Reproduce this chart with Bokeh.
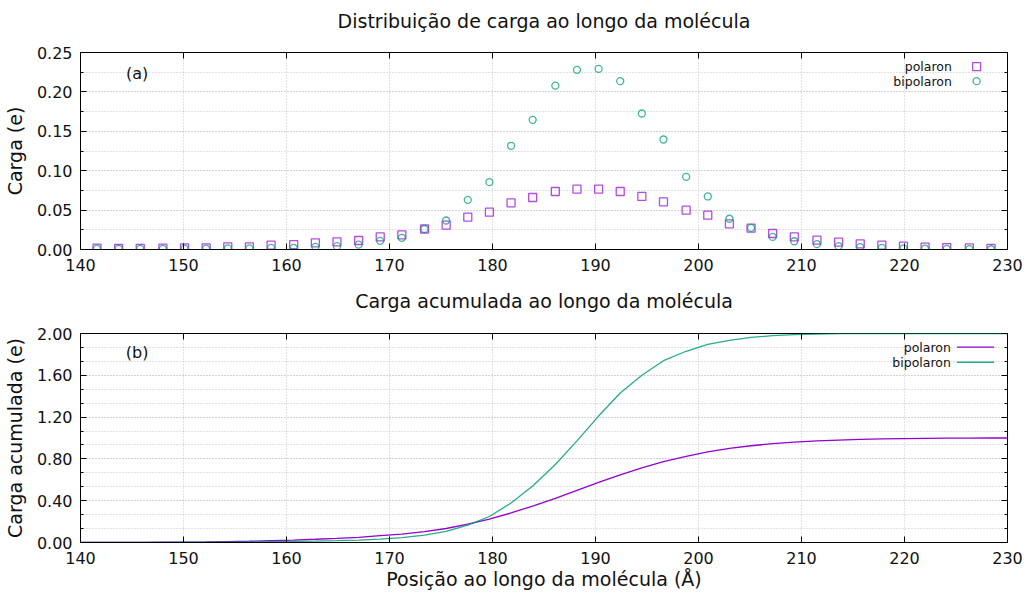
from bokeh.plotting import figure
from bokeh.layouts import column
from bokeh.models import (Range1d, SingleIntervalTicker, LinearAxis, PrintfTickFormatter,
                          Label, CustomJSTickFormatter)
from bokeh.embed import file_html
from bokeh.resources import INLINE

# ---------------- data ----------------
posicao = [141.6, 143.7, 145.8, 148.0, 150.1, 152.2, 154.3, 156.4, 158.5, 160.7,
           162.8, 164.9, 167.0, 169.1, 171.2, 173.4, 175.5, 177.6, 179.7, 181.8,
           183.9, 186.1, 188.2, 190.3, 192.4, 194.5, 196.6, 198.8, 200.9, 203.0,
           205.1, 207.2, 209.3, 211.5, 213.6, 215.7, 217.8, 219.9, 222.0, 224.1,
           226.3, 228.4]
carga_polaron = [0.0017, 0.0013, 0.0015, 0.0017, 0.002, 0.002, 0.0034, 0.0034, 0.0055, 0.0063,
                 0.0085, 0.0097, 0.0114, 0.016, 0.0186, 0.026, 0.031, 0.041, 0.0474, 0.0592,
                 0.066, 0.0736, 0.0766, 0.0766, 0.0736, 0.0673, 0.0605, 0.0499, 0.0436, 0.0326,
                 0.027, 0.0203, 0.016, 0.0118, 0.0093, 0.0072, 0.0055, 0.0042, 0.003, 0.0025,
                 0.002, 0.0015]
carga_bipolaron = [0.001, 0.0008, 0.0008, 0.0008, 0.001, 0.001, 0.0015, 0.0015, 0.002, 0.002,
                   0.0034, 0.0042, 0.0063, 0.011, 0.0148, 0.026, 0.0368, 0.063, 0.0855, 0.1316,
                   0.1645, 0.208, 0.228, 0.2293, 0.2136, 0.1726, 0.1396, 0.0922, 0.0673, 0.039,
                   0.0275, 0.016, 0.0105, 0.0068, 0.0042, 0.003, 0.002, 0.0015, 0.001, 0.0008,
                   0.0005, 0.0003]

posicao_acum = [140.0, 141.6, 143.7, 145.8, 148.0, 150.1, 152.2, 154.3, 156.4, 158.5, 160.7,
                162.8, 164.9, 167.0, 169.1, 171.2, 173.4, 175.5, 177.6, 179.7, 181.8,
                183.9, 186.1, 188.2, 190.3, 192.4, 194.5, 196.6, 198.8, 200.9, 203.0,
                205.1, 207.2, 209.3, 211.5, 213.6, 215.7, 217.8, 219.9, 222.0, 224.1,
                226.3, 228.4, 230.0]
acum_polaron = [0.0, 0.0, 0.001, 0.002, 0.003, 0.004, 0.006, 0.009, 0.012, 0.017, 0.023,
                0.031, 0.040, 0.050, 0.065, 0.081, 0.104, 0.134, 0.175, 0.224, 0.283,
                0.349, 0.423, 0.499, 0.575, 0.648, 0.715, 0.775, 0.825, 0.868, 0.900,
                0.926, 0.946, 0.961, 0.972, 0.980, 0.986, 0.991, 0.994, 0.996, 0.998,
                0.999, 1.0, 1.0]
acum_bipolaron = [0.0, 0.0, 0.001, 0.001, 0.002, 0.003, 0.003, 0.004, 0.006, 0.008, 0.010,
                  0.013, 0.017, 0.023, 0.033, 0.047, 0.071, 0.106, 0.166, 0.249, 0.378,
                  0.540, 0.746, 0.972, 1.210, 1.430, 1.600, 1.740, 1.830, 1.895, 1.935,
                  1.962, 1.979, 1.989, 1.995, 1.998, 1.999, 2.0, 2.0, 2.0, 2.0,
                  2.0, 2.0, 2.0]

series_names = ["polaron", "bipolaron"]
colors = ["#9400d3", "#009e73"]
titulos = ["Distribuição de carga ao longo da molécula", "Carga acumulada ao longo da molécula"]

FONT = "DejaVu Sans"
GRID = "#c4c4c4"


def title_fig(text, height):
    t = figure(width=1030, height=height, x_range=Range1d(0, 1), y_range=Range1d(0, 1),
               output_backend="svg", toolbar_location=None,
               min_border_left=80, min_border_right=23, min_border_top=0, min_border_bottom=0)
    t.axis.visible = False
    t.grid.visible = False
    t.outline_line_color = None
    t.add_layout(Label(x=0.5, y=0.5, text=text, text_align="center", text_baseline="middle",
                       text_font=FONT, text_font_size="19px", text_color="#111111"))
    return t


def style(p, y_interval, y_minor, y_fmt):
    p.outline_line_color = "black"
    p.outline_line_width = 1

    xt = SingleIntervalTicker(interval=10, num_minor_ticks=0)
    yt = SingleIntervalTicker(interval=y_interval, num_minor_ticks=y_minor)
    bottom = p.below[0]
    left = p.left[0]
    bottom.ticker = xt
    left.ticker = yt
    left.formatter = PrintfTickFormatter(format=y_fmt)
    for ax in (bottom, left):
        ax.major_tick_in = 6
        ax.major_tick_out = 0
        ax.minor_tick_in = 3
        ax.minor_tick_out = 0
        ax.axis_line_color = "black"
        ax.major_tick_line_color = "black"
        ax.minor_tick_line_color = "black"
        ax.major_label_text_font = FONT
        ax.major_label_text_font_size = "16px"
        ax.major_label_text_color = "#111111"
        ax.axis_label_text_font = FONT
        ax.axis_label_text_font_size = "19px"
        ax.axis_label_text_font_style = "normal"
        ax.axis_label_text_color = "#111111"
    bottom.major_label_standoff = 9
    left.major_label_standoff = 8
    left.axis_label_standoff = 8

    p.xgrid.grid_line_color = GRID
    p.xgrid.grid_line_dash = "1 2"
    p.ygrid.grid_line_color = GRID
    p.ygrid.grid_line_dash = "1 2"
    p.ygrid.minor_grid_line_color = GRID
    p.ygrid.minor_grid_line_dash = "1 2"

    blank = CustomJSTickFormatter(code="return ''")
    right = LinearAxis(ticker=yt, formatter=blank, axis_line_color=None,
                       major_tick_in=6, major_tick_out=0, minor_tick_in=3, minor_tick_out=0,
                       major_label_standoff=0, major_label_text_font_size="1px")
    top = LinearAxis(ticker=xt, formatter=blank, axis_line_color=None,
                     major_tick_in=6, major_tick_out=0, minor_tick_in=0, minor_tick_out=0,
                     major_label_standoff=0, major_label_text_font_size="1px")
    p.add_layout(right, "right")
    p.add_layout(top, "above")
    return bottom, left


# ---------------- top panel ----------------
t1 = title_fig(titulos[0], 40)
p1 = figure(width=1030, height=242, x_range=Range1d(140, 230), y_range=Range1d(0, 0.25),
            output_backend="svg", toolbar_location=None,
            min_border_left=80, min_border_right=23, min_border_top=12, min_border_bottom=33)
b1, l1 = style(p1, 0.05, 2, "%.2f")
l1.axis_label = "Carga (e)"

p1.scatter(posicao, carga_polaron, marker="square", size=8, fill_color=None,
           line_color=colors[0], line_width=1.3, line_alpha=0.7)
p1.scatter(posicao, carga_bipolaron, marker="circle", size=7, fill_color=None,
           line_color=colors[1], line_width=1.3, line_alpha=0.75)

p1.add_layout(Label(x=145.5, y=0.2237, text="(a)", text_align="center", text_baseline="middle",
                    text_font=FONT, text_font_size="16px", text_color="#111111"))
leg_y1 = [0.2322, 0.2136]
for name, yy in zip(series_names, leg_y1):
    p1.add_layout(Label(x=224.6, y=yy, text=name, text_align="right", text_baseline="middle",
                        text_font=FONT, text_font_size="12.5px", text_color="#111111"))
p1.scatter([227.0], [leg_y1[0]], marker="square", size=8, fill_color=None,
           line_color=colors[0], line_width=1.3, line_alpha=0.7)
p1.scatter([227.0], [leg_y1[1]], marker="circle", size=7, fill_color=None,
           line_color=colors[1], line_width=1.3, line_alpha=0.75)

# ---------------- bottom panel ----------------
t2 = title_fig(titulos[1], 36)
p2 = figure(width=1030, height=276, x_range=Range1d(140, 230), y_range=Range1d(0, 2.0),
            output_backend="svg", toolbar_location=None,
            min_border_left=80, min_border_right=23, min_border_top=15, min_border_bottom=52)
b2, l2 = style(p2, 0.4, 3, "%.2f")
l2.axis_label = "Carga acumulada (e)"
b2.axis_label = "Posição ao longo da molécula (Å)"
b2.axis_label_standoff = 1

p2.line(posicao_acum, acum_polaron, line_color=colors[0], line_width=1.3)
p2.line(posicao_acum, acum_bipolaron, line_color=colors[1], line_width=1.3, line_alpha=0.85)

p2.add_layout(Label(x=145.5, y=1.82, text="(b)", text_align="center", text_baseline="middle",
                    text_font=FONT, text_font_size="16px", text_color="#111111"))
leg_y2 = [1.869, 1.725]
for name, yy in zip(series_names, leg_y2):
    p2.add_layout(Label(x=224.5, y=yy, text=name, text_align="right", text_baseline="middle",
                        text_font=FONT, text_font_size="12.5px", text_color="#111111"))
p2.line([225.1, 228.7], [leg_y2[0], leg_y2[0]], line_color=colors[0], line_width=1.3)
p2.line([225.1, 228.7], [leg_y2[1], leg_y2[1]], line_color=colors[1], line_width=1.3, line_alpha=0.85)

layout = column(t1, p1, t2, p2)
open("out.html", "w").write(file_html(layout, INLINE))
